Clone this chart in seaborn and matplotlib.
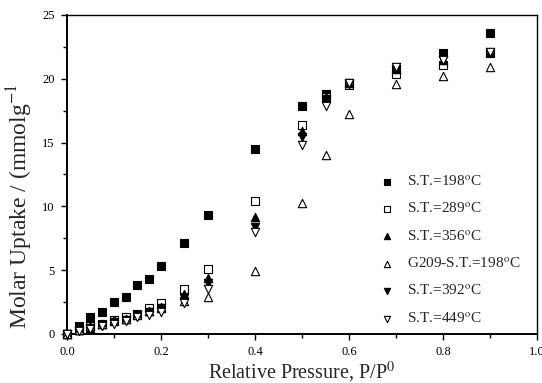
import numpy as np
import matplotlib
matplotlib.use('Agg')
import matplotlib.pyplot as plt
import seaborn as sns
from matplotlib.ticker import MultipleLocator

sns.set_style('ticks')
plt.rcParams['font.family'] = ['Liberation Serif', 'DejaVu Serif']
plt.rcParams['mathtext.fontset'] = 'stix'

# relative pressure P/P0
p = [0.0, 0.025, 0.05, 0.075, 0.1, 0.125, 0.15, 0.175, 0.2, 0.25, 0.3,
     0.4, 0.5, 0.55, 0.6, 0.7, 0.8, 0.9]

st198 = [0.0, 0.6, 1.3, 1.7, 2.5, 2.9, 3.8, 4.3, 5.3, 7.1, 9.3,
         14.5, 17.9, 18.8, 19.7, 20.8, 22.0, 23.6]
st289 = [0.0, 0.3, 0.6, 0.8, 1.1, 1.35, 1.6, 2.0, 2.4, 3.5, 5.1,
         10.4, 16.4, 18.6, 19.5, 20.4, 21.1, 22.0]
st356 = [0.0, 0.3, 0.5, 0.8, 1.0, 1.2, 1.6, 1.8, 2.1, 3.1, 4.4,
         9.2, 15.9, 18.6, 19.7, 20.8, 21.5, 22.1]
g209 = [0.0, 0.3, 0.6, 0.8, 1.1, 1.2, 1.5, 1.8, 2.0, 2.6, 2.9,
        4.9, 10.3, 14.0, 17.2, 19.6, 20.2, 20.9]
st392 = [0.0, 0.3, 0.5, 0.7, 0.9, 1.1, 1.5, 1.7, 2.0, 2.8, 4.0,
         8.4, 15.4, 18.4, 19.6, 20.8, 21.5, 22.0]
st449 = [0.0, 0.2, 0.4, 0.6, 0.8, 1.0, 1.3, 1.5, 1.7, 2.4, 3.5,
         8.0, 14.8, 17.9, 19.7, 20.9, 21.5, 22.1]

series = [
    ('S.T.=198$^{\\rm o}$C', st198, 's', 'black'),
    ('S.T.=289$^{\\rm o}$C', st289, 's', 'white'),
    ('S.T.=356$^{\\rm o}$C', st356, '^', 'black'),
    ('G209-S.T.=198$^{\\rm o}$C', g209, '^', 'white'),
    ('S.T.=392$^{\\rm o}$C', st392, 'v', 'black'),
    ('S.T.=449$^{\\rm o}$C', st449, 'v', 'white'),
]

fig = plt.figure(figsize=(5.42, 3.83), dpi=100)
ax = fig.add_axes([0.1236, 0.128, 0.8672, 0.833])

for label, vals, mk, fc in series:
    size = 28 if mk == 's' else 36
    sns.scatterplot(x=p, y=vals, ax=ax, marker=mk, color=fc, edgecolor='black',
                    linewidth=0.8, s=size, label=label, clip_on=False, zorder=3)

ax.set_xlim(0, 1.0)
ax.set_ylim(0, 25)
ax.set_xticks([0, 0.2, 0.4, 0.6, 0.8, 1.0])
ax.set_xticklabels(['0.0', '0.2', '0.4', '0.6', '0.8', '1.0'])
ax.xaxis.set_minor_locator(MultipleLocator(0.1))
ax.yaxis.set_major_locator(MultipleLocator(5))
ax.yaxis.set_minor_locator(MultipleLocator(2.5))
ax.tick_params(which='both', direction='out', labelsize=9, width=1.0,
               colors='black', pad=5)
ax.tick_params(which='major', length=4)
ax.tick_params(which='minor', length=3)
ax.tick_params(top=False, right=False)
for sp in ax.spines.values():
    sp.set_visible(True)
    sp.set_color('black')
    sp.set_linewidth(1.0)
ax.spines['left'].set_linewidth(1.4)
ax.spines['bottom'].set_linewidth(1.4)

ax.set_xlabel('Relative Pressure, P/P$^0$', fontsize=14.5)
ax.xaxis.set_label_coords(0.5, -0.08)
ax.xaxis.label.set_va('top')
ax.set_ylabel('Molar Uptake / (mmolg$^{-1}$', fontsize=17)
ax.yaxis.set_label_coords(-0.068, 0.40)

ax.legend(loc='lower left', bbox_to_anchor=(0.6185, -0.0175), frameon=False,
          fontsize=11, labelspacing=0.835, handletextpad=0.35, markerscale=0.75)

fig.savefig('out.png', dpi=100)
